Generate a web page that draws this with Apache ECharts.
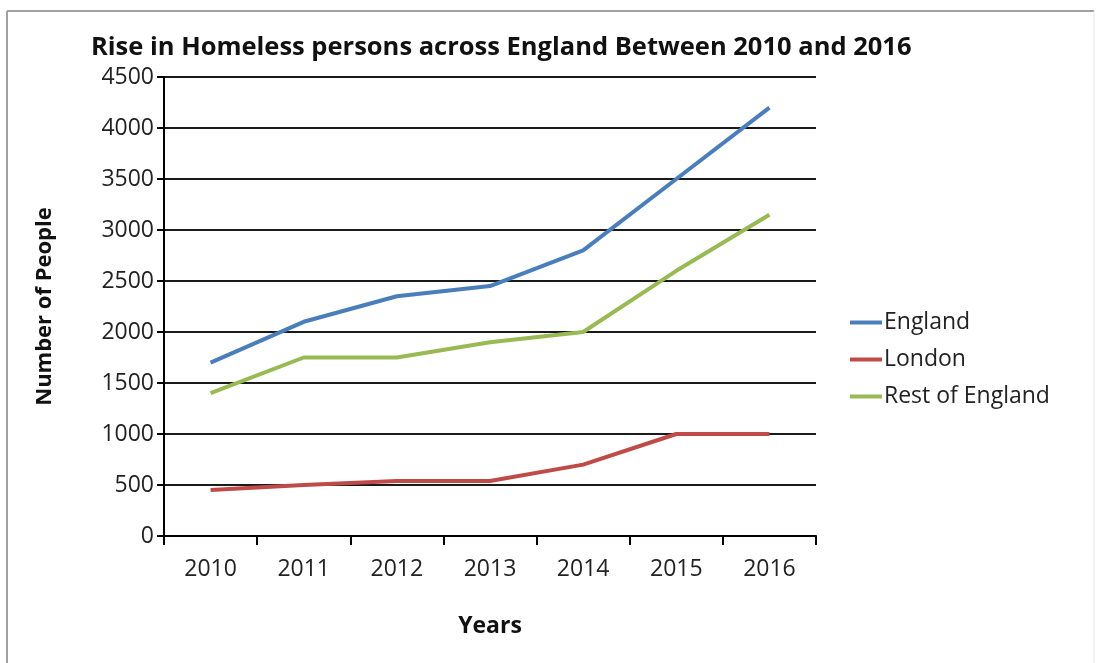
<!DOCTYPE html>
<html><head><meta charset="utf-8">
<script src="https://cdn.jsdelivr.net/npm/echarts@6/dist/echarts.min.js"></script>
<style>html,body{margin:0;padding:0;background:#fff}#c{width:1096px;height:663px}</style>
</head><body><div id="c"></div>
<script>
const years = ['2010','2011','2012','2013','2014','2015','2016'];
const england = [1700, 2100, 2350, 2450, 2800, 3500, 4200];
const london = [450, 500, 540, 540, 700, 1000, 1000];
const restOfEngland = [1400, 1750, 1750, 1900, 2000, 2600, 3150];
const yTicks = [0, 500, 1000, 1500, 2000, 2500, 3000, 3500, 4000, 4500];

const FONT = '"Open Sans", "Noto Sans", sans-serif';
const chart = echarts.init(document.getElementById('c'));
const mk = (name, data, color) => ({
  name, type: 'line', data, symbol: 'none', smooth: false,
  lineStyle: { color, width: 4 }, itemStyle: { color }
});
chart.setOption({
  animation: false,
  backgroundColor: '#fff',
  title: {
    text: 'Rise in Homeless persons across England Between 2010 and 2016',
    left: 86, top: 30,
    textStyle: { fontFamily: FONT, fontWeight: 'bold', fontSize: 25.5, color: '#111' }
  },
  graphic: [
    { type: 'line', shape: { x1: 7, y1: 11, x2: 1094, y2: 11 }, style: { stroke: '#a0a0a0', lineWidth: 2 } },
    { type: 'line', shape: { x1: 7, y1: 11, x2: 7, y2: 663 }, style: { stroke: '#a0a0a0', lineWidth: 2 } },
    { type: 'line', shape: { x1: 1094, y1: 11, x2: 1094, y2: 663 }, style: { stroke: '#e4e4e4', lineWidth: 1 } }
  ],
  legend: {
    orient: 'vertical', left: 845, top: 306, itemGap: 14,
    itemWidth: 32, itemHeight: 4, icon: 'rect',
    textStyle: { fontFamily: FONT, fontSize: 23, color: '#222', padding: [0, 0, 0, -3] },
    data: ['England', 'London', 'Rest of England']
  },
  grid: { left: 164, right: 280, top: 77, bottom: 127, containLabel: false },
  xAxis: {
    type: 'category', data: years, boundaryGap: true,
    name: 'Years', nameLocation: 'middle', nameGap: 79,
    nameTextStyle: { fontFamily: FONT, fontWeight: 'bold', fontSize: 23, color: '#111' },
    axisLine: { lineStyle: { color: '#000', width: 2 } },
    axisTick: { show: true, alignWithLabel: false, length: 9, lineStyle: { color: '#000', width: 2 } },
    axisLabel: { fontFamily: FONT, fontSize: 23, color: '#222', margin: 22 }
  },
  yAxis: {
    type: 'value', min: yTicks[0], max: yTicks[yTicks.length - 1], interval: 500,
    name: 'Number of People', nameLocation: 'middle', nameGap: 108, nameRotate: 90,
    nameTextStyle: { fontFamily: FONT, fontWeight: 'bold', fontSize: 22, color: '#111' },
    axisLine: { show: true, lineStyle: { color: '#000', width: 2 } },
    axisTick: { show: true, length: 7, lineStyle: { color: '#000', width: 2 } },
    axisLabel: { fontFamily: FONT, fontSize: 23, color: '#222', margin: 10, formatter: v => String(v) },
    splitLine: { show: true, lineStyle: { color: '#1a1a1a', width: 2 } }
  },
  series: [
    mk('England', england, '#4a7ebb'),
    mk('London', london, '#be4b48'),
    mk('Rest of England', restOfEngland, '#98b954')
  ]
});
</script></body></html>
